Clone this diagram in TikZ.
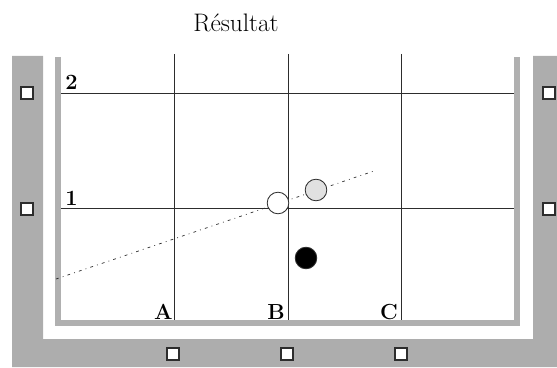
\documentclass[tikz,border=0pt]{standalone}
\usepackage{tikz}
\definecolor{wallgray}{RGB}{173,173,173}
\definecolor{rimgray}{RGB}{176,176,176}
\definecolor{gridline}{RGB}{45,45,45}
\definecolor{ballgray}{RGB}{225,225,225}

\begin{document}
\begin{tikzpicture}[x=0.025cm, y=-0.025cm,
  sensor/.style={draw=gridline, fill=white, line width=0.8pt, minimum size=0.3cm, inner sep=0pt},
  ball/.style={circle, draw=gridline, line width=0.6pt, minimum size=0.54cm, inner sep=0pt},
  axislabel/.style={inner sep=0pt, font=\fontsize{15.5}{18}\selectfont\bfseries}]
\useasboundingbox (0,0) rectangle (557,367);
\node[anchor=base, inner sep=0pt, font=\fontsize{18}{21}\selectfont] (title) at (236,32) {Résultat};
\fill[wallgray] (12,56) -- (43,56) -- (43,339) -- (533,339) -- (533,56) -- (557,56) -- (557,367) -- (12,367) -- cycle;
\foreach \x in {174,288,401} {
\draw[gridline, line width=0.7pt] (\x,54) -- (\x,323);
}
\foreach \y in {93,208} {
\draw[gridline, line width=0.7pt] (58,\y) -- (517,\y);
}
\draw[rimgray, line width=3.8pt] (58,57) -- (58,323) -- (517,323) -- (517,57);
\node[axislabel, anchor=base west] (row2) at (65,90) {2};
\node[axislabel, anchor=base west] (row1) at (65,205) {1};
\node[axislabel, anchor=base east] (colA) at (173,319) {A};
\node[axislabel, anchor=base east] (colB) at (285,319) {B};
\node[axislabel, anchor=base east] (colC) at (398,319) {C};
\foreach \y [count=\i] in {93,209} {
\node[sensor] (left\i) at (27,\y) {};
\node[sensor] (right\i) at (549,\y) {};
}
\foreach \x [count=\i] in {173,287,401} {
\node[sensor] (bottom\i) at (\x,354) {};
}
\coordinate (trail start) at (56,279);
\coordinate (trail end) at (374,171);
\draw[gridline, line width=0.5pt, dash pattern=on 2pt off 3pt on 0.6pt off 3pt] (trail start) -- (trail end);
\node[ball, fill=white] (white ball) at (278,203) {};
\node[ball, fill=ballgray] (gray ball) at (316,190) {};
\node[ball, fill=black] (black ball) at (306,258) {};
\end{tikzpicture}
\end{document}
